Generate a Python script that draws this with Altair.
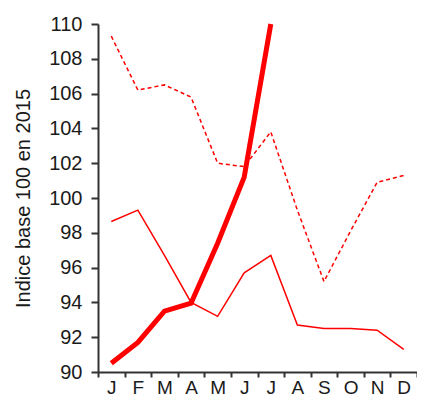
import json
import altair as alt
import pandas as pd

months = ["J", "F", "M", "A", "M", "J", "J", "A", "S", "O", "N", "D"]
month_num = list(range(1, 13))
y_ticks = list(range(90, 111, 2))

# values
thick = [90.5, 91.7, 93.5, 93.95, 97.4, 101.2, 110.0]
thin = [98.65, 99.3, 96.7, 94.0, 93.2, 95.7, 96.7, 92.7, 92.5, 92.5, 92.4, 91.3]
dashed = [109.3, 106.2, 106.5, 105.8, 102.0, 101.8, 103.8, 99.3, 95.2, 98.1, 100.9, 101.3]

rows = []
for name, vals in (("thin", thin), ("dashed", dashed), ("thick", thick)):
    for i, v in enumerate(vals):
        rows.append({"m": month_num[i], "v": v, "s": name})
df = pd.DataFrame(rows)

label_expr = json.dumps(months) + "[datum.value - 1]"
FONT = "Liberation Sans"
AX = "#333333"
TXT = "#1a1a1a"

x = alt.X(
    "m:O",
    scale=alt.Scale(type="band", domain=month_num, paddingInner=0, paddingOuter=0),
    axis=alt.Axis(
        title=None, labelAngle=0, labelExpr=label_expr, tickBand="extent",
        tickSize=5, labelPadding=1, labelFontSize=19, labelFont=FONT,
        labelColor=TXT, domainColor=AX, tickColor=AX,
        domainWidth=2, tickWidth=2, grid=False,
    ),
)
y = alt.Y(
    "v:Q",
    scale=alt.Scale(domain=[90, 110], nice=False, zero=False),
    axis=alt.Axis(
        title="Indice base 100 en 2015", values=y_ticks, tickSize=7,
        labelPadding=9, labelFontSize=20, labelFont=FONT, labelColor=TXT,
        titleFont=FONT, titleFontSize=20, titleFontWeight="normal",
        titleColor=TXT, titlePadding=15,
        domainColor=AX, tickColor=AX, domainWidth=2, tickWidth=2, grid=False,
    ),
)

base = alt.Chart(df)
l_thin = base.transform_filter(alt.datum.s == "thin").mark_line(
    color="#ff0000", strokeWidth=1.5).encode(x=x, y=y)
l_dash = base.transform_filter(alt.datum.s == "dashed").mark_line(
    color="#ff0000", strokeWidth=1.5, strokeDash=[4, 3]).encode(x=x, y=y)
l_thick = base.transform_filter(alt.datum.s == "thick").mark_line(
    color="#ff0000", strokeWidth=5).encode(x=x, y=y)

chart = alt.layer(l_thin, l_dash, l_thick).properties(
    width=319, height=348,
    autosize="none",
    padding={"left": 90, "top": 16, "right": 0, "bottom": 24},
).configure_view(stroke=None)

chart.save("out.html", embed_options={"renderer": "svg", "actions": False})
